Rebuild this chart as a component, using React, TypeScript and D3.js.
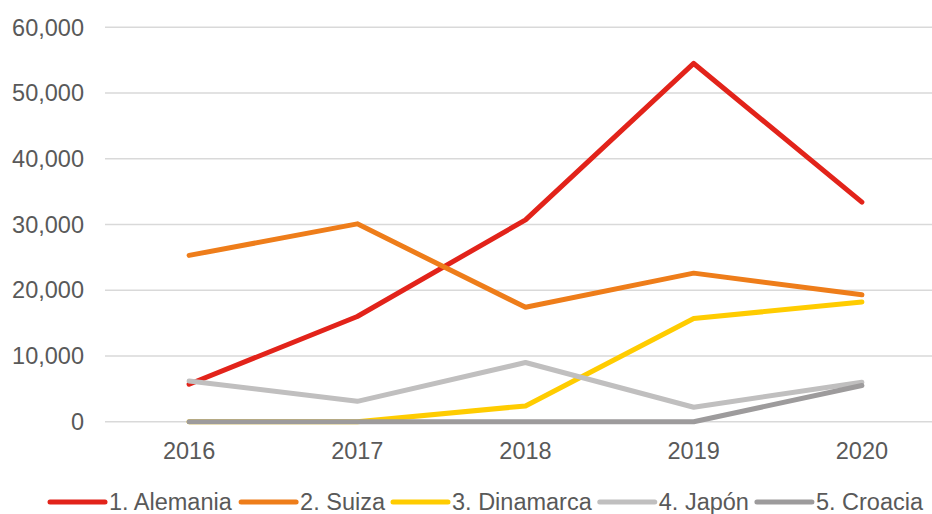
import React from 'react';
import * as d3 from 'd3';

const years = ['2016', '2017', '2018', '2019', '2020'];
const seriesNames = ['1. Alemania', '2. Suiza', '3. Dinamarca', '4. Japón', '5. Croacia'];
const alemania = [5700, 16000, 30700, 54500, 33400];
const suiza = [25300, 30100, 17400, 22600, 19300];
const dinamarca = [0, 0, 2400, 15700, 18200];
const japon = [6200, 3100, 9000, 2200, 6000];
const croacia = [0, 0, 0, 0, 5500];
const yTicks = [0, 10000, 20000, 30000, 40000, 50000, 60000];

const seriesValues = [alemania, suiza, dinamarca, japon, croacia];
const colors = ['#E2231A', '#EE7D1A', '#FFCC00', '#C0BFBF', '#9D9B9C'];

const width = 932;
const height = 514;
const fontFamily = '"Liberation Sans", Arial, sans-serif';
const fontSize = 23.5;
const textColor = '#595959';

function measure(text: string): number {
    const ctx = document.createElement('canvas').getContext('2d');
    if (!ctx) return text.length * fontSize * 0.5;
    ctx.font = `${fontSize}px ${fontFamily}`;
    return ctx.measureText(text).width;
}

export default function App() {
    const xScale = d3.scalePoint<string>()
        .domain(years)
        .range([105, 946])
        .padding(0.5);
    const yScale = d3.scaleLinear()
        .domain([0, 60000])
        .range([421.7, 27.3]);
    const line = d3.line<number>()
        .x((d, i) => xScale(years[i]) as number)
        .y(d => yScale(d));
    const fmt = d3.format(',');

    // legend layout
    const lineLen = 55;
    const textGap = 4;
    const itemGap = 8;
    const widths = seriesNames.map(measure);
    let cursor = 50;
    const legendItems = seriesNames.map((name, i) => {
        const x = cursor;
        cursor += lineLen + textGap + widths[i] + itemGap;
        return {name, x, color: colors[i]};
    });
    const legendY = 502;

    return (
        <svg width={width} height={height}
             style={{position: 'absolute', left: 0, top: 0, background: '#fff'}}
             fontFamily={fontFamily}>
            {yTicks.map(t => (
                <g key={t}>
                    <line x1={105} x2={width} y1={yScale(t)} y2={yScale(t)} stroke="#D9D9D9" strokeWidth={1.5}/>
                    <text x={84} y={yScale(t)} dy="0.35em" textAnchor="end" fontSize={fontSize} fill={textColor}>
                        {fmt(t)}
                    </text>
                </g>
            ))}
            {years.map(y => (
                <text key={y} x={xScale(y)} y={459} textAnchor="middle" fontSize={fontSize} fill={textColor}>{y}</text>
            ))}
            {seriesValues.map((vals, i) => (
                <path key={seriesNames[i]} d={line(vals) || ''} fill="none" stroke={colors[i]}
                      strokeWidth={5} strokeLinejoin="round" strokeLinecap="round"/>
            ))}
            {legendItems.map(item => (
                <g key={item.name}>
                    <line x1={item.x} x2={item.x + lineLen} y1={legendY} y2={legendY}
                          stroke={item.color} strokeWidth={5} strokeLinecap="round"/>
                    <text x={item.x + lineLen + textGap} y={legendY} dy="0.35em" fontSize={fontSize} fill={textColor}>
                        {item.name}
                    </text>
                </g>
            ))}
        </svg>
    );
}
